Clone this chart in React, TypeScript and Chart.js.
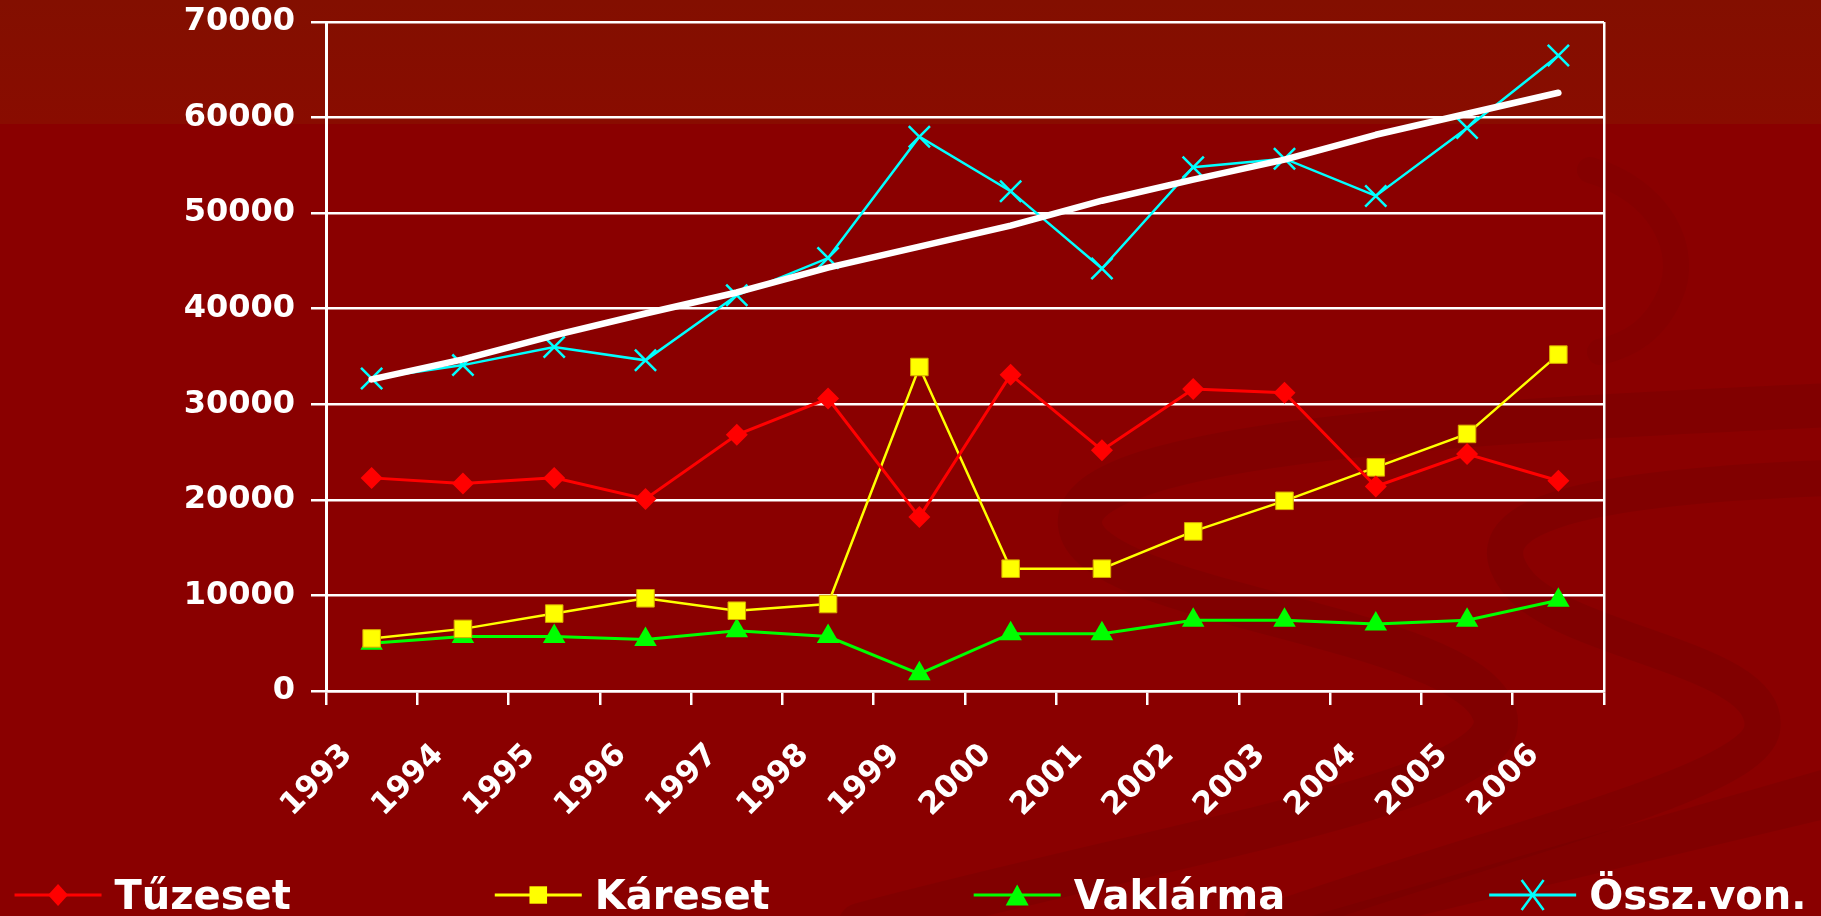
import { useEffect, useRef } from 'react';
import { Chart, registerables } from 'chart.js';

Chart.register(...registerables);

// ---- data ----
const years = ['1993', '1994', '1995', '1996', '1997', '1998', '1999', '2000', '2001', '2002', '2003', '2004', '2005', '2006'];
const tuzeset = [22300, 21700, 22300, 20100, 26800, 30600, 18200, 33100, 25200, 31600, 31200, 21400, 24800, 22000];
const kareset = [5500, 6500, 8100, 9700, 8400, 9100, 33900, 12800, 12800, 16700, 19900, 23400, 26900, 35200];
const vaklarma = [5000, 5700, 5700, 5400, 6300, 5700, 1800, 6000, 6000, 7400, 7400, 7000, 7400, 9500];
const osszVon = [32700, 34100, 36000, 34600, 41400, 45300, 58000, 52300, 44200, 54800, 55700, 51800, 58900, 66500];
const trend = [32600, 34700, 37200, 39500, 41700, 44300, 46500, 48700, 51300, 53500, 55600, 58200, 60400, 62600];
const seriesNames = ['Tűzeset', 'Káreset', 'Vaklárma', 'Össz.von.'];
const yMin = 0;
const yMax = 70000;
const yStep = 10000;

const W = 1821;
const H = 916;
const FONT = "'DejaVu Sans', 'Liberation Sans', sans-serif";

const bgPlugin = {
  id: 'bgPlugin',
  beforeDraw(chart: any) {
    const ctx = chart.ctx as CanvasRenderingContext2D;
    ctx.save();
    ctx.fillStyle = '#8A0000';
    ctx.fillRect(0, 0, chart.width, chart.height);
    const g = ctx.createLinearGradient(0, 0, 0, 124);
    g.addColorStop(0, '#830F00');
    g.addColorStop(1, '#890C00');
    ctx.fillStyle = g;
    ctx.fillRect(0, 0, chart.width, 124);

    // decorative dark swooshes
    ctx.strokeStyle = 'rgba(110,0,0,0.3)';
    ctx.lineCap = 'round';
    ctx.lineWidth = 44;
    ctx.beginPath();
    ctx.moveTo(1830, 405);
    ctx.bezierCurveTo(1500, 420, 1070, 440, 1080, 525);
    ctx.bezierCurveTo(1090, 605, 1470, 625, 1495, 715);
    ctx.bezierCurveTo(1515, 790, 1200, 835, 860, 925);
    ctx.stroke();

    ctx.lineWidth = 36;
    ctx.beginPath();
    ctx.moveTo(1830, 478);
    ctx.bezierCurveTo(1560, 488, 1465, 520, 1520, 585);
    ctx.bezierCurveTo(1575, 645, 1775, 660, 1762, 730);
    ctx.bezierCurveTo(1750, 785, 1500, 840, 1260, 925);
    ctx.stroke();

    ctx.strokeStyle = 'rgba(110,0,0,0.18)';
    ctx.lineWidth = 26;
    ctx.beginPath();
    ctx.moveTo(1590, 170);
    ctx.bezierCurveTo(1660, 190, 1690, 250, 1670, 295);
    ctx.bezierCurveTo(1655, 330, 1630, 345, 1600, 352);
    ctx.stroke();

    ctx.fillStyle = 'rgba(110,0,0,0.3)';
    ctx.beginPath();
    ctx.moveTo(1821, 770);
    ctx.lineTo(1821, 820);
    ctx.lineTo(1380, 925);
    ctx.lineTo(1280, 925);
    ctx.closePath();
    ctx.fill();
    ctx.restore();
  },
};

function drawLegendMarker(ctx: CanvasRenderingContext2D, kind: number, x: number, y: number, color: string) {
  ctx.save();
  ctx.fillStyle = color;
  ctx.strokeStyle = color;
  ctx.beginPath();
  if (kind === 0) {
    ctx.moveTo(x, y - 11);
    ctx.lineTo(x + 10, y);
    ctx.lineTo(x, y + 11);
    ctx.lineTo(x - 10, y);
    ctx.closePath();
    ctx.fill();
  } else if (kind === 1) {
    ctx.rect(x - 8.8, y - 8.7, 17.6, 17.4);
    ctx.fill();
  } else if (kind === 2) {
    ctx.moveTo(x, y - 10.5);
    ctx.lineTo(x + 11.5, y + 10.5);
    ctx.lineTo(x - 11.5, y + 10.5);
    ctx.closePath();
    ctx.fill();
  } else {
    ctx.lineWidth = 2.5;
    ctx.moveTo(x - 11, y - 15);
    ctx.lineTo(x + 11, y + 15);
    ctx.moveTo(x + 11, y - 15);
    ctx.lineTo(x - 11, y + 15);
    ctx.stroke();
  }
  ctx.restore();
}

const legendPlugin = {
  id: 'lineLegend',
  afterDraw(chart: any) {
    const ctx = chart.ctx as CanvasRenderingContext2D;
    ctx.save();
    ctx.font = `bold 40px ${FONT}`;
    const lineLen = 87;
    const textGap = 13;
    const itemGap = 204;
    const widths = seriesNames.map((n) => ctx.measureText(n).width);
    const total = widths.reduce((a, b) => a + b + lineLen + textGap, 0) + itemGap * (seriesNames.length - 1);
    let x = (chart.width - total) / 2;
    const y = chart.height - 21;
    seriesNames.forEach((name, i) => {
      const ds = chart.data.datasets[i];
      ctx.strokeStyle = ds.borderColor;
      ctx.lineWidth = 3;
      ctx.beginPath();
      ctx.moveTo(x, y);
      ctx.lineTo(x + lineLen, y);
      ctx.stroke();
      drawLegendMarker(ctx, i, x + lineLen / 2, y, ds.borderColor);
      ctx.fillStyle = '#FFFFFF';
      ctx.textAlign = 'left';
      ctx.textBaseline = 'alphabetic';
      ctx.fillText(name, x + lineLen + textGap, y + 14);
      x += lineLen + textGap + widths[i] + itemGap;
    });
    ctx.restore();
  },
};

export default function App() {
  const ref = useRef<HTMLCanvasElement | null>(null);

  useEffect(() => {
    if (!ref.current) return;
    const yFont = { family: FONT, size: 32, weight: 'bold' as const };
    const xFont = { family: FONT, size: 31, weight: 'bold' as const };
    const chart = new Chart(ref.current, {
      type: 'line',
      data: {
        labels: years,
        datasets: [
          {
            label: seriesNames[0],
            data: tuzeset,
            borderColor: '#FF0000',
            backgroundColor: '#FF0000',
            borderWidth: 3,
            pointStyle: 'rectRot',
            pointRadius: 11,
            pointBackgroundColor: '#FF0000',
            pointBorderColor: '#FF0000',
            pointBorderWidth: 0,
            tension: 0,
          },
          {
            label: seriesNames[1],
            data: kareset,
            borderColor: '#FFFF00',
            backgroundColor: '#FFFF00',
            borderWidth: 2.5,
            pointStyle: 'rect',
            pointRadius: 12.4,
            pointBackgroundColor: '#FFFF00',
            pointBorderColor: '#D8A800',
            pointBorderWidth: 1,
            tension: 0,
          },
          {
            label: seriesNames[2],
            data: vaklarma,
            borderColor: '#00FF00',
            backgroundColor: '#00FF00',
            borderWidth: 3,
            pointStyle: 'triangle',
            pointRadius: 13,
            pointBackgroundColor: '#00FF00',
            pointBorderColor: '#00FF00',
            pointBorderWidth: 0,
            tension: 0,
          },
          {
            label: seriesNames[3],
            data: osszVon,
            borderColor: '#00FFFF',
            backgroundColor: '#00FFFF',
            borderWidth: 2.5,
            pointStyle: 'crossRot',
            pointRadius: 15,
            pointBorderColor: '#00FFFF',
            pointBorderWidth: 2.5,
            tension: 0,
          },
          {
            label: 'Trend',
            data: trend,
            borderColor: '#FFFFFF',
            backgroundColor: '#FFFFFF',
            borderWidth: 6.5,
            pointRadius: 0,
            borderCapStyle: 'round',
            borderJoinStyle: 'round',
            tension: 0,
            order: -1,
          },
        ],
      },
      options: {
        responsive: false,
        devicePixelRatio: 1,
        animation: false,
        clip: false as any,
        layout: { padding: { left: 0, top: 22, right: 217, bottom: 95 } },
        plugins: {
          legend: { display: false },
          tooltip: { enabled: false },
        },
        events: [],
        scales: {
          x: {
            type: 'category',
            offset: true,
            grid: {
              offset: true,
              drawOnChartArea: true,
              color: (c: any) => (c.tick ? 'rgba(0,0,0,0)' : '#FFFFFF'),
              tickColor: '#FFFFFF',
              lineWidth: 2.5,
              tickWidth: 2.5,
              tickLength: 14,
            },
            border: { color: '#FFFFFF', width: 2.5 },
            ticks: {
              color: '#FFFFFF',
              font: xFont,
              minRotation: 45,
              maxRotation: 45,
              autoSkip: false,
              padding: 32,
              labelOffset: -24,
            },
            afterFit: (s: any) => {
              s.height = 130;
              s.paddingLeft = 0;
              s.paddingRight = 0;
            },
          },
          y: {
            min: yMin,
            max: yMax,
            grid: { color: '#FFFFFF', lineWidth: 2.5, tickLength: 15 },
            border: { color: '#FFFFFF', width: 3 },
            ticks: {
              stepSize: yStep,
              color: '#FFFFFF',
              font: yFont,
              padding: 16,
              callback: (v: any) => String(v),
            },
            afterFit: (s: any) => {
              s.width = 326;
              s.paddingTop = 0;
              s.paddingBottom = 0;
            },
          },
        },
      },
      plugins: [bgPlugin, legendPlugin],
    } as any);
    return () => chart.destroy();
  }, []);

  return (
    <div style={{ position: 'fixed', left: 0, top: 0, width: W, height: H, background: '#8A0000' }}>
      <canvas ref={ref} width={W} height={H} style={{ display: 'block', width: W, height: H }} />
    </div>
  );
}
